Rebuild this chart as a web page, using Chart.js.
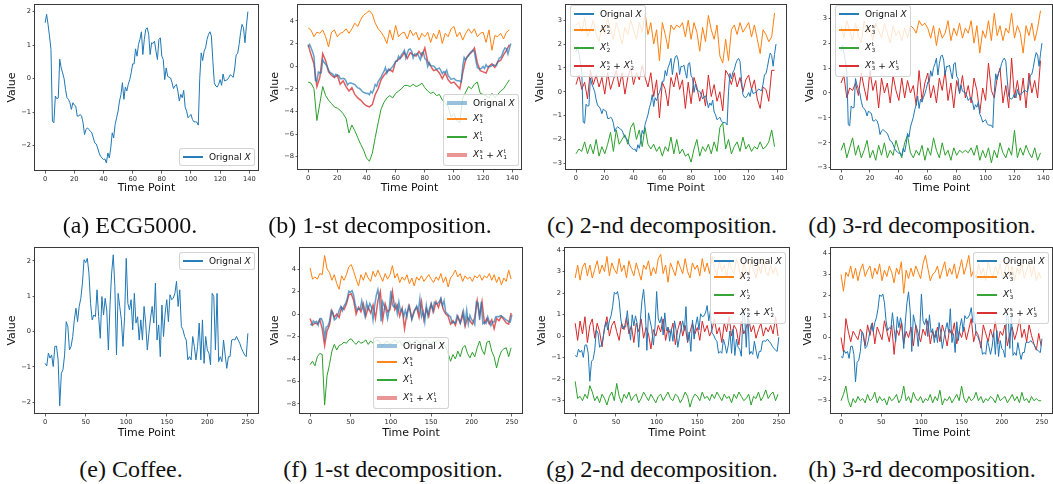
<!DOCTYPE html>
<html>
<head>
<meta charset="utf-8">
<script src="https://cdn.jsdelivr.net/npm/chart.js@4.4.1/dist/chart.umd.min.js"></script>
<style>
  html, body { margin: 0; padding: 0; background: #fff; }
  #fig { position: relative; width: 1053px; height: 484px; overflow: hidden; background: #fff; }
  .panel { position: absolute; }
  .panel canvas { display: block; }
  .cap { position: absolute; font-family: "Liberation Serif", "Times New Roman", serif; font-size: 24px;
         color: #111; white-space: nowrap; transform: translate(-50%, -50%); line-height: 1; }
  .lg { position: absolute; background: rgba(255,255,255,0.8); border: 1px solid rgba(204,204,204,0.85);
        border-radius: 3px; padding: 3px 3px; font-family: "DejaVu Sans", sans-serif; font-size: 9px;
        color: #111; line-height: 1; box-sizing: border-box; }
  .lg .row { display: flex; align-items: center; height: 10px; }
  .lg .row + .row { margin-top: 4px; }
  .lg .row.math { height: 14px; }
  .lg .hd { width: 20px; margin-right: 6px; flex: none; }
  .lg i { font-style: italic; }
  .lg .ss { display: inline-flex; flex-direction: column; font-size: 0.62em; line-height: 1.05; vertical-align: middle;
            margin-left: 0.5px; }
  .lg .ss span { display: block; }
  .lg .op { margin: 0 3px; }
</style>
</head>
<body>
<div id="fig"></div>
<script>
// ---------------- data ----------------
// ECG5000 sample, one value per time point (0..139)
const ecgX = [
  1.67, 1.92, 1.62, 1.27, 0.87, -1.27, -1.32, -0.52, -0.60, -0.58,
  0.58, 0.32, 0.17, 0.00, -0.33, -0.57, -0.62, -0.72, -0.92, -0.72,
  -0.79, -0.82, -1.12, -1.12, -1.07, -1.12, -1.32, -1.67, -1.52, -1.47,
  -1.52, -1.57, -1.62, -1.77, -1.92, -1.95, -2.07, -2.22, -2.32, -2.37,
  -2.42, -2.40, -2.52, -2.22, -2.37, -2.07, -1.62, -1.77, -1.37, -1.17,
  -0.97, -0.67, -0.47, -0.12, -0.62, -0.25, -0.37, -0.17, -0.03, 0.17,
  0.44, 0.44, 0.89, 0.67, 1.02, 1.17, 1.40, 0.72, 1.17, 1.47,
  1.52, 1.32, 0.72, 1.07, 1.05, 1.12, 0.82, 0.57, 1.17, 1.22,
  0.67, 0.57, -0.03, 0.32, 0.07, 0.04, 0.02, -0.12, -0.30, -0.22,
  -0.17, -0.37, -0.67, -0.47, -0.57, -0.35, -0.85, -0.97, -1.17, -1.12,
  -1.07, -1.22, -1.29, -1.29, -1.30, -1.39, 0.00, 0.77, 0.54, 0.82,
  0.92, 1.17, 1.32, 1.40, 1.27, 0.52, -0.12, -0.22, -0.25, -0.17,
  -0.03, -0.20, 0.14, -0.07, -0.05, -0.03, 0.04, 0.12, 0.07, 0.04,
  0.32, 0.72, 0.75, 1.02, 1.37, 1.62, 1.52, 1.07, 1.57, 2.00
];

// ECG5000 components, every 2nd time point (0, 2, ..., 138)
const ecgS1 = [
  3.38, 3.18, 2.6, 3.0, 2.9, 3.2, 2.6, 1.7, 3.0, 3.2,
  2.6, 2.9, 3.0, 3.3, 2.9, 3.3, 3.8, 3.5, 4.1, 4.5,
  4.7, 4.9, 4.6, 3.8, 3.3, 3.0, 2.6, 2.0, 3.2, 2.3,
  3.6, 2.6, 2.9, 3.0, 2.4, 3.2, 2.7, 3.0, 2.3, 2.9,
  2.6, 3.0, 2.1, 2.9, 2.4, 3.2, 2.0, 2.9, 2.6, 3.3,
  3.5, 2.6, 3.0, 2.3, 2.9, 3.3, 2.9, 3.3, 2.6, 2.9,
  3.0, 2.1, 3.2, 1.4, 2.7, 2.6, 2.9, 2.4, 3.0, 3.2
];
const ecgT1 = [
  -1.4, -1.5, -2.0, -4.8, -3.3, -1.8, -2.6, -3.0, -3.3, -3.6,
  -3.7, -3.9, -4.2, -4.6, -5.9, -5.2, -5.7, -6.3, -6.9, -7.4,
  -8.1, -8.4, -7.7, -6.3, -5.0, -3.8, -3.2, -2.8, -2.6, -2.8,
  -2.4, -2.2, -2.0, -1.7, -1.7, -1.8, -1.6, -1.8, -1.7, -1.5,
  -1.9, -2.2, -2.4, -2.3, -2.6, -2.5, -3.0, -3.2, -3.6, -4.5,
  -4.2, -4.8, -5.0, -2.8, -2.3, -1.8, -2.0, -1.6, -1.4, -2.4,
  -2.5, -2.6, -2.8, -2.4, -2.8, -2.5, -2.2, -2.0, -1.6, -1.2
];
const ecgSum1 = [
  1.9, 1.0, 0.2, -1.8, -1.0, 1.1, 0.5, -0.5, -0.8, -1.0,
  -0.8, -1.6, -1.3, -1.8, -2.2, -1.9, -2.5, -2.8, -3.0, -3.3,
  -3.5, -3.6, -3.4, -2.5, -2.0, -1.2, -0.8, -0.5, -0.3, -0.5,
  0.4, 0.6, 0.8, 1.2, 0.7, 1.2, 1.0, 0.9, 1.3, 0.9,
  1.6, 0.4, 0.0, -0.4, -0.3, -0.6, -1.1, -0.6, -1.2, -1.5,
  -1.4, -1.7, -2.0, -0.6, 0.6, 1.0, 1.2, 1.6, 0.3, -0.4,
  -0.5, -0.6, 0.0, 0.2, -0.1, 0.4, 0.5, 1.0, 1.4, 1.9
];
const ecgS2 = [
  2.8, 2.9, 2.5, 3.1, 2.3, 2.6, 3.0, 2.4, 2.1, 2.8,
  2.4, 3.1, 2.6, 2.2, 2.9, 2.5, 2.0, 2.7, 2.4, 3.0,
  2.6, 2.2, 2.9, 2.5, 3.3, 2.4, 2.9, 2.0, 2.6, 1.3,
  2.9, 2.4, 1.8, 2.8, 2.6, 2.8, 2.7, 2.9, 2.3, 3.0,
  2.2, 2.9, 2.5, 1.7, 2.7, 2.1, 3.2, 2.6, 2.2, 2.8,
  1.5, 1.2, 2.2, 1.3, 2.6, 2.8, 2.4, 2.9, 2.5, 2.7,
  2.9, 2.3, 2.8, 2.2, 1.6, 2.6, 2.4, 2.1, 2.3, 3.3
];
const ecgT2 = [
  -2.6, -2.4, -2.5, -2.1, -2.6, -2.2, -2.6, -2.0, -2.7, -2.3,
  -2.6, -2.2, -1.7, -2.5, -1.6, -2.2, -2.0, -1.8, -2.2, -1.5,
  -1.3, -2.0, -1.6, -2.3, -1.5, -2.2, -2.4, -2.2, -2.5, -2.3,
  -2.7, -2.3, -2.5, -1.9, -2.6, -2.0, -2.6, -2.4, -2.7, -2.6,
  -2.95, -2.4, -2.0, -2.7, -2.3, -2.5, -2.2, -2.6, -2.1, -2.5,
  -1.5, -1.3, -2.4, -2.0, -2.6, -2.3, -2.1, -2.5, -1.9, -2.4,
  -2.2, -2.5, -2.3, -2.4, -2.1, -2.4, -2.3, -2.1, -1.6, -2.3
];
const ecgSum2 = [
  0.3, 0.7, 0.1, 0.4, -0.3, 0.9, 0.3, 0.7, 0.2, 0.6,
  -0.1, 0.8, 0.1, 0.5, 0.9, 0.2, 0.8, -0.1, 0.6, 1.0,
  0.3, 0.8, 0.5, 1.1, 0.6, 0.2, 0.8, -0.2, 0.5, -1.1,
  0.4, 0.1, -0.6, 0.6, 0.2, 0.8, 0.1, 0.5, -0.7, 0.4,
  -0.5, 0.6, 0.2, -0.4, 0.1, -0.6, 0.7, -0.2, 0.3, -0.4,
  0.0, -0.8, 0.9, 0.7, 0.3, 0.8, 0.2, 0.6, 0.0, 0.5,
  0.7, 0.1, 0.5, -0.3, -0.7, 0.2, 0.1, -0.4, 0.9, 0.9
];
const ecgS3 = [
  2.7, 2.2, 2.9, 2.5, 2.1, 2.8, 2.3, 2.0, 2.9, 2.4,
  2.6, 2.1, 2.8, 2.5, 2.2, 2.8, 2.4, 2.0, 2.7, 2.3,
  2.5, 2.1, 2.6, 2.2, 2.7, 2.6, 2.4, 2.9, 2.7, 2.8,
  2.6, 2.2, 2.7, 1.9, 2.6, 2.2, 2.4, 2.9, 2.1, 2.6,
  2.3, 2.8, 2.2, 2.6, 2.4, 2.9, 2.0, 2.7, 1.6, 2.5,
  2.2, 2.9, 2.1, 3.2, 2.3, 2.7, 2.1, 2.6, 2.4, 3.2,
  2.2, 2.7, 2.4, 1.6, 2.7, 2.3, 2.8, 2.1, 2.6, 3.3
];
const ecgT3 = [
  -2.3, -2.0, -2.6, -2.2, -1.8, -2.5, -2.1, -2.6, -2.3, -1.9,
  -2.6, -2.3, -2.7, -2.1, -2.5, -2.0, -2.6, -2.3, -2.5, -1.9,
  -2.3, -2.6, -2.0, -1.7, -2.4, -2.6, -2.3, -2.5, -2.1, -2.7,
  -2.2, -2.5, -1.8, -2.3, -2.6, -2.0, -2.5, -2.3, -2.7, -2.2,
  -2.5, -2.3, -2.4, -2.3, -2.4, -2.2, -2.5, -2.1, -2.7, -2.3,
  -2.6, -2.2, -2.8, -2.3, -2.6, -2.0, -2.4, -2.6, -2.2, -2.5,
  -1.5, -2.6, -2.2, -2.5, -2.1, -2.4, -2.6, -2.2, -2.7, -2.4
];
const ecgSum3 = [
  0.4, 0.7, -0.2, 0.2, 0.1, 0.4, -0.1, 0.8, 0.2, -0.3,
  0.9, 0.1, 0.5, -0.6, 0.6, 0.0, 0.4, -0.4, 0.7, 0.1,
  -0.3, 0.6, -0.2, 0.5, 0.0, 0.3, -0.5, 0.9, -0.3, 0.4,
  0.8, -0.2, 0.3, -0.4, 0.6, 0.1, 0.9, -0.3, 0.4, -0.6,
  0.5, 0.0, 0.7, -0.2, 0.3, -0.4, 0.6, 0.1, -0.8, 0.2,
  -0.3, 1.2, 0.1, -0.2, 0.6, 1.0, -0.4, 0.3, -0.6, 1.4,
  -0.2, 0.5, -0.3, 0.6, -0.6, 0.8, 0.0, 0.5, -0.2, 1.3
];

// Coffee sample, every 2nd time point (0, 2, ..., 250)
const coffeeX = [
  -0.90, -0.97, -0.61, -0.75, -0.66, -0.99, -0.42, -0.41, -0.80, -2.10,
  -1.18, -1.08, -0.66, 0.28, 0.14, -0.52, -0.42, -0.14, 0.33, 0.66,
  0.28, 0.71, 0.94, 1.37, 2.03, 1.95, 2.07, 1.65, 0.80, 0.33,
  0.47, 0.42, 1.18, 0.42, -0.19, 0.99, 0.47, 0.94, 0.61, -0.52,
  0.75, 1.65, 2.17, 1.27, -0.66, 1.08, 0.71, 0.33, -0.42, 0.42,
  2.07, 0.80, 0.61, 0.90, 0.05, 1.08, 0.24, 0.42, -0.24, 0.33,
  -0.24, 0.71, 0.24, -0.52, -0.05, 0.38, 0.71, 0.24, 1.37, -0.24,
  0.19, -0.71, 0.75, -0.14, 0.52, 0.90, 0.28, 1.04, 0.90, 0.94,
  1.08, 1.42, 0.71, 1.18, 0.14, 0.05, -0.14, -0.24, -0.80, -0.71,
  -0.80, -0.14, -0.42, -0.80, -0.42, 0.24, -0.80, 0.33, -0.90, -0.14,
  -0.52, -0.61, -0.94, 1.08, 0.99, -0.52, 1.08, -0.85, -0.71, -0.85,
  -0.24, -0.66, -1.04, -0.71, -0.71, -0.24, -0.22, -0.24, -0.14, -0.24,
  -0.33, -0.47, -0.57, -0.66, -0.71, -0.05
];

// Coffee components, every 3rd time point (0, 3, ..., 249)
const coffeeS1 = [
  4.1, 3.1, 3.3, 3.1, 3.6, 3.5, 5.2, 4.0, 3.7, 3.0,
  3.5, 2.7, 2.2, 3.4, 3.0, 3.5, 4.2, 4.4, 3.8, 3.1,
  2.5, 3.5, 3.0, 3.7, 3.2, 2.9, 3.8, 3.3, 3.9, 3.4,
  2.9, 3.6, 3.1, 3.5, 4.3, 3.2, 3.6, 2.8, 3.3, 3.0,
  3.5, 2.7, 3.2, 2.5, 3.3, 3.0, 3.4, 2.9, 3.2, 3.5,
  3.1, 2.8, 3.3, 3.0, 3.6, 2.8, 3.3, 2.4, 3.2, 3.5,
  3.9, 3.3, 3.6, 2.9, 3.4, 3.1, 3.3, 2.9, 3.4, 3.2,
  3.5, 3.0, 3.4, 3.2, 3.6, 3.0, 3.5, 2.8, 3.3, 2.6,
  3.2, 2.9, 3.9, 3.1
];
const coffeeT1 = [
  -4.5, -4.2, -4.6, -3.8, -3.5, -3.6, -8.1, -5.5, -4.5, -3.3,
  -2.7, -3.2, -2.8, -2.7, -2.5, -2.6, -2.3, -2.2, -2.5, -2.7,
  -2.4, -2.6, -2.5, -2.3, -2.7, -2.4, -2.6, -2.4, -2.3, -2.6,
  -2.8, -2.5, -2.4, -2.7, -2.5, -2.3, -2.6, -2.4, -2.8, -2.5,
  -2.6, -2.4, -2.7, -2.5, -2.3, -2.5, -2.6, -2.4, -2.3, -2.5,
  -2.7, -2.4, -2.5, -2.3, -2.6, -2.7, -2.9, -3.5, -4.2, -3.6,
  -4.0, -3.3, -3.8, -3.0, -2.8, -3.5, -3.9, -3.4, -3.8, -3.0,
  -2.4, -3.2, -3.6, -2.5, -2.4, -3.3, -3.8, -4.8, -3.9, -3.3,
  -3.1, -3.0, -3.8, -3.0
];
const coffeeSum1 = [
  -0.4, -1.0, -0.8, -0.9, -0.5, -1.3, -2.8, -1.5, -1.0, 0.3,
  -0.3, 0.0, -0.3, 0.6, 0.4, 0.9, 1.7, 1.8, 1.2, 0.0,
  0.6, 0.2, 0.9, -0.2, 0.6, 0.1, 0.8, -0.4, 1.2, 2.0,
  -0.5, 0.9, 0.2, 0.4, 2.0, 0.4, 0.8, -0.2, 0.5, -1.3,
  0.1, 0.7, -0.4, 0.3, 0.6, -0.3, 1.1, -0.5, 0.5, -0.2,
  0.9, 0.2, 1.1, 0.6, 1.3, 0.4, 0.0, -0.2, -0.9, -0.6,
  -1.0, -0.2, -0.8, 0.1, -1.1, -0.3, -0.6, -0.9, -0.3, 1.2,
  -0.2, 1.1, -0.8, -0.4, -0.9, -0.5, -1.3, -0.4, -0.6, -0.2,
  -0.5, -0.8, -0.9, 0.1
];
const coffeeS2 = [
  2.7, 3.3, 2.6, 3.2, 3.4, 2.8, 3.3, 2.7, 3.1, 3.5,
  2.9, 3.3, 3.0, 3.7, 2.8, 3.4, 3.1, 2.9, 3.6, 3.0,
  3.3, 2.7, 3.5, 3.1, 2.8, 3.4, 3.0, 2.6, 3.3, 3.1,
  3.5, 2.8, 3.2, 2.9, 3.6, 3.8, 2.9, 3.3, 2.5, 3.4,
  3.1, 2.8, 3.5, 3.2, 2.9, 3.6, 3.0, 2.7, 3.4, 3.1,
  3.3, 2.8, 3.6, 3.0, 3.4, 2.9, 3.7, 3.2, 2.8, 3.5,
  3.0, 3.3, 2.7, 3.5, 3.1, 2.9, 3.6, 3.2, 2.6, 3.4,
  3.0, 2.8, 3.5, 3.1, 2.7, 3.3, 2.9, 3.6, 3.0, 2.8,
  3.3, 2.9, 3.2, 2.8
];
const coffeeT2 = [
  -2.1, -2.9, -2.8, -3.0, -2.7, -2.9, -2.3, -2.6, -3.0, -2.8,
  -3.1, -2.7, -2.9, -3.2, -2.8, -2.6, -3.0, -2.2, -2.8, -3.1,
  -2.7, -2.9, -2.6, -3.0, -2.8, -2.7, -3.1, -2.9, -2.6, -2.8,
  -3.0, -2.7, -2.9, -3.1, -2.8, -2.7, -3.0, -2.8, -2.6, -2.9,
  -3.0, -2.7, -2.8, -3.1, -2.9, -2.6, -2.8, -3.3, -2.9, -2.7,
  -2.8, -3.0, -2.6, -2.9, -2.8, -3.0, -2.7, -2.9, -2.6, -2.8,
  -3.0, -2.7, -2.9, -2.8, -3.1, -2.7, -2.9, -2.6, -2.8, -3.0,
  -2.9, -2.7, -3.2, -2.8, -2.9, -2.6, -3.0, -2.8, -2.5, -2.9,
  -2.7, -2.6, -3.0, -2.7
];
const coffeeSum2 = [
  0.6, -0.2, 0.7, 0.1, 0.9, -0.3, 0.5, 0.8, -0.1, 0.6,
  0.2, -0.5, 0.4, 0.9, 0.0, 0.5, 0.7, 0.2, -0.2, 0.6,
  0.3, 0.9, 0.1, 0.5, -0.3, 0.6, 0.2, 0.8, -0.1, 0.4,
  0.1, -0.6, 0.3, 0.0, 0.5, 0.2, 0.8, -0.2, 0.4, 0.1,
  0.6, -0.4, 0.3, 0.7, 0.0, 0.5, -0.3, 0.2, 0.6, 0.1,
  0.4, -0.2, 0.7, 0.2, 0.5, 0.0, 0.3, 0.8, 0.1, 0.4,
  -0.3, 0.6, 0.2, 0.9, 0.0, 0.5, 0.3, -0.4, 0.7, 0.1,
  0.4, 0.8, 0.2, 0.5, -0.1, 0.3, 0.6, 0.0, 0.4, 0.2,
  0.5, 0.1, 0.9, 0.0
];
const coffeeS3 = [
  3.0, 2.2, 3.1, 2.9, 3.4, 2.8, 3.3, 2.7, 3.2, 3.5,
  2.9, 3.2, 3.4, 2.8, 3.3, 3.0, 3.5, 2.7, 3.2, 2.9,
  3.4, 3.1, 2.6, 3.3, 3.0, 3.6, 2.1, 3.2, 2.8, 3.3,
  2.9, 3.4, 3.1, 2.8, 3.5, 3.9, 3.3, 2.7, 3.0, 3.1,
  3.4, 2.8, 3.2, 3.6, 2.9, 3.3, 3.0, 3.5, 2.8, 3.2,
  3.7, 3.0, 3.4, 3.9, 2.9, 3.2, 2.8, 3.5, 3.0, 3.3,
  2.7, 3.6, 3.1, 2.9, 3.4, 3.0, 3.5, 2.8, 3.2, 3.6,
  2.9, 3.4, 2.7, 3.3, 3.0, 3.5, 2.8, 3.2, 3.6, 2.9,
  3.4, 2.7, 3.1, 2.8
];
const coffeeT3 = [
  -3.0, -2.7, -2.3, -3.0, -3.3, -2.9, -3.1, -2.8, -3.0, -2.9,
  -3.1, -2.7, -3.0, -2.9, -2.6, -3.1, -2.8, -3.0, -2.9, -3.2,
  -2.8, -3.0, -2.9, -2.7, -3.1, -2.9, -2.3, -3.0, -2.8, -3.1,
  -2.6, -2.9, -3.0, -2.8, -3.1, -2.9, -3.0, -2.7, -3.1, -2.8,
  -3.0, -2.5, -3.2, -2.9, -3.0, -2.8, -3.1, -2.9, -2.7, -3.0,
  -2.3, -2.9, -3.1, -2.8, -3.0, -2.9, -2.6, -3.0, -2.8, -3.1,
  -2.9, -3.0, -2.8, -2.9, -3.1, -2.7, -3.0, -2.9, -2.8, -3.1,
  -2.9, -2.7, -3.0, -2.8, -3.1, -2.6, -3.0, -2.9, -3.1, -2.8,
  -3.0, -2.9, -3.0, -3.0
];
const coffeeSum3 = [
  0.0, -0.7, 0.9, 0.3, -0.2, 0.3, 0.1, -0.1, 0.4, 0.2,
  -0.4, 0.6, 0.1, 0.7, -0.3, 0.5, 0.2, -0.1, 0.8, 0.3,
  -0.2, 0.6, -0.8, 0.4, 0.1, 0.7, -0.3, 0.3, 0.0, 0.5,
  -0.4, 0.6, 0.2, -0.2, 0.4, 0.1, 0.8, -0.3, 0.3, 0.0,
  0.5, -0.2, 0.6, 0.2, -0.4, 0.4, 0.1, 0.7, -0.3, 0.3,
  0.0, 0.5, -0.1, 0.4, 0.9, -0.2, 0.3, 0.1, -0.5, 0.6,
  0.2, -0.2, 0.4, 0.0, 0.8, -0.3, 0.3, 0.1, 0.6, -0.4,
  0.2, 0.5, -0.1, 0.3, 0.9, 0.0, 0.4, -0.2, 0.6, 0.1,
  -0.3, -0.6, 0.2, -0.4
];

// sampling step (time points between stored values)
const STEP = { ecgX: 1, ecgSub: 2, coffeeX: 2, coffeeSub: 3 };

// tick labels
const ecgXTicks = [0, 20, 40, 60, 80, 100, 120, 140];
const coffeeXTicks = [0, 50, 100, 150, 200, 250];
const yTicksA = [-2, -1, 0, 1, 2];
const yTicksB = [-8, -6, -4, -2, 0, 2, 4];
const yTicksC = [-3, -2, -1, 0, 1, 2, 3];
const yTicksE = [-2, -1, 0, 1, 2];
const yTicksG = [-3, -2, -1, 0, 1, 2, 3, 4];

// legend labels and captions
const labelX = 'Orignal $X$';
const labelS = k => `$X_${k}^s$`;
const labelT = k => `$X_${k}^t$`;
const labelSum = k => `$X_${k}^s + X_${k}^t$`;
const captions = [
  '(a) ECG5000.', '(b) 1-st decomposition.', '(c) 2-nd decomposition.', '(d) 3-rd decomposition.',
  '(e) Coffee.', '(f) 1-st decomposition.', '(g) 2-nd decomposition.', '(h) 3-rd decomposition.'
];

// ---------------- styling helpers ----------------
const COL = { blue: '31,119,180', orange: '255,127,14', green: '44,160,44', red: '214,39,40' };

function line(label, values, step, col, width = 1, alpha = 1) {
  return {
    label,
    data: values.map((v, i) => ({ x: i * step, y: v })),
    borderColor: `rgba(${col},${alpha})`,
    backgroundColor: `rgba(${col},${alpha})`,
    borderWidth: width,
    pointRadius: 0,
    tension: 0,
    fill: false
  };
}

function decompositionSets(x, xStep, s, t, sum, subStep, k, emphasize) {
  const w = emphasize ? 1.5 : 1;
  return [
    line(labelX, x, xStep, COL.blue, w, emphasize ? 0.7 : 1),
    line(labelS(k), s, subStep, COL.orange),
    line(labelT(k), t, subStep, COL.green),
    line(labelSum(k), sum, subStep, COL.red, w, emphasize ? 0.75 : 1)
  ];
}

// panel layout: canvas rect [left, top, width, height], plot box [left, top, right, bottom]
const panels = [
  { cv: [0, 0, 262, 200], box: [35, 4, 258, 171], xr: [-6.95, 145.95], xt: ecgXTicks, yr: [-2.76, 2.23], yt: yTicksA,
    legend: { loc: 'lower right', dx: 3, dy: 5 },
    sets: [line(labelX, ecgX, STEP.ecgX, COL.blue)] },
  { cv: [263, 0, 264, 200], box: [298, 4, 521, 170], xr: [-6.95, 145.95], xt: ecgXTicks, yr: [-9.17, 5.49], yt: yTicksB,
    legend: { loc: 'lower right', dx: 2.5, dy: 4.5 },
    sets: decompositionSets(ecgX, STEP.ecgX, ecgS1, ecgT1, ecgSum1, STEP.ecgSub, 1, true) },
  { cv: [528, 0, 264, 200], box: [566, 4, 786, 170], xr: [-6.95, 145.95], xt: ecgXTicks, yr: [-3.28, 3.68], yt: yTicksC,
    legend: { loc: 'upper left', dx: 4, dy: 1 },
    sets: decompositionSets(ecgX, STEP.ecgX, ecgS2, ecgT2, ecgSum2, STEP.ecgSub, 2, false) },
  { cv: [798, 0, 255, 200], box: [831, 4, 1052, 170], xr: [-6.95, 145.95], xt: ecgXTicks, yr: [-3.09, 3.57], yt: yTicksC,
    legend: { loc: 'upper left', dx: 4, dy: 1 },
    sets: decompositionSets(ecgX, STEP.ecgX, ecgS3, ecgT3, ecgSum3, STEP.ecgSub, 3, false) },
  { cv: [0, 244, 262, 200], box: [35, 247, 258, 414], xr: [-12.5, 262.5], xt: coffeeXTicks, yr: [-2.33, 2.39], yt: yTicksE,
    legend: { loc: 'upper right', dx: 3, dy: 5 },
    sets: [line(labelX, coffeeX, STEP.coffeeX, COL.blue)] },
  { cv: [263, 244, 264, 200], box: [300, 247, 522, 414], xr: [-12.5, 262.5], xt: coffeeXTicks, yr: [-8.89, 5.96], yt: yTicksB,
    legend: { loc: 'lower center', dx: 0, dy: 5.5 },
    sets: decompositionSets(coffeeX, STEP.coffeeX, coffeeS1, coffeeT1, coffeeSum1, STEP.coffeeSub, 1, true) },
  { cv: [530, 244, 262, 200], box: [565, 247, 789, 414], xr: [-12.5, 262.5], xt: coffeeXTicks, yr: [-3.62, 4.14], yt: yTicksG,
    legend: { loc: 'upper right', dx: 3.5, dy: 5 },
    sets: decompositionSets(coffeeX, STEP.coffeeX, coffeeS2, coffeeT2, coffeeSum2, STEP.coffeeSub, 2, false) },
  { cv: [796, 244, 257, 200], box: [831, 247, 1052, 414], xr: [-12.5, 262.5], xt: coffeeXTicks, yr: [-3.63, 4.30], yt: yTicksG,
    legend: { loc: 'upper right', dx: 3, dy: 4.5 },
    sets: decompositionSets(coffeeX, STEP.coffeeX, coffeeS3, coffeeT3, coffeeSum3, STEP.coffeeSub, 3, false) }
];
const captionPos = [[130, 225], [380, 225], [662, 225], [922, 225], [131, 469], [393, 469], [662, 469], [922, 469]];
const xTitleY = [188, 432.7];   // centre line of "Time Point" per row
const yTitleX = 12;             // centre of "Value" from the canvas' left edge

// ---------------- plugins ----------------
// full box around the plotting area (all four spines)
const frame = {
  id: 'frame',
  afterDatasetsDraw(chart) {
    const { ctx, chartArea: a } = chart;
    ctx.save();
    ctx.strokeStyle = '#3a3a3a';
    ctx.lineWidth = 1;
    ctx.strokeRect(Math.round(a.left) - 0.5, Math.round(a.top) + 0.5,
                   Math.round(a.right - a.left) + 1, Math.round(a.bottom - a.top) - 1);
    ctx.restore();
  }
};

// mathtext-like label markup: $X_1^s$ -> italic X with stacked super/subscript
function labelHtml(text) {
  return text.split('$').map((part, i) => {
    if (i % 2 === 0) return part.replace(/&/g, '&amp;').replace(/</g, '&lt;');
    return part
      .replace(/([A-Za-z])_(\w)\^(\w)/g, '<i>$1</i><span class="ss"><span>$3</span><span>$2</span></span>')
      .replace(/\s*\+\s*/g, '<span class="op">+</span>')
      .replace(/^([A-Za-z])$/, '<i>$1</i>');
  }).join('');
}

// legend drawn as HTML from the chart's datasets, anchored to the plot area
const htmlLegend = {
  id: 'htmlLegend',
  afterUpdate(chart, args, opts) {
    const host = chart.canvas.parentNode;
    let box = host.querySelector('.lg');
    if (!box) { box = document.createElement('div'); box.className = 'lg'; host.appendChild(box); }
    box.innerHTML = '';
    chart.data.datasets.forEach(ds => {
      const row = document.createElement('div');
      row.className = 'row' + (ds.label.includes('_') ? ' math' : '');
      const hd = document.createElement('span');
      hd.className = 'hd';
      const thick = ds.borderWidth > 1.2;
      hd.style.height = (thick ? 4 : 2) + 'px';
      hd.style.background = ds.borderColor;
      hd.style.opacity = thick ? '0.65' : '0.95';
      const tx = document.createElement('span');
      tx.innerHTML = labelHtml(ds.label);
      row.appendChild(hd); row.appendChild(tx);
      box.appendChild(row);
    });
    const a = chart.chartArea, w = box.offsetWidth, h = box.offsetHeight;
    const [v, hz] = opts.loc.split(' ');
    const left = hz === 'left' ? a.left + opts.dx : hz === 'right' ? a.right - opts.dx - w : (a.left + a.right - w) / 2;
    const top = v === 'upper' ? a.top + opts.dy : a.bottom - opts.dy - h;
    box.style.left = Math.round(left) + 'px';
    box.style.top = Math.round(top) + 'px';
  }
};

// ---------------- build ----------------
const fig = document.getElementById('fig');
const tickFont = { family: 'DejaVu Sans', size: 6.7 };
const titleFont = { family: 'DejaVu Sans', size: 11, lineHeight: 1.2 };
const fmt = v => (v < 0 ? '\u2212' + Math.abs(v) : String(v));

panels.forEach((p, idx) => {
  const [cl, ct, cw, ch] = p.cv;
  const [bl, bt, br, bb] = p.box;
  const div = document.createElement('div');
  div.className = 'panel';
  Object.assign(div.style, { left: cl + 'px', top: ct + 'px', width: cw + 'px', height: ch + 'px' });
  const cv = document.createElement('canvas');
  cv.width = cw; cv.height = ch;
  cv.style.width = cw + 'px'; cv.style.height = ch + 'px';
  div.appendChild(cv);
  fig.appendChild(div);

  const yWidth = bl - cl, xHeight = ct + ch - bb;
  const half = titleFont.size * titleFont.lineHeight / 2;
  const xTitlePad = ct + ch - xTitleY[idx < 4 ? 0 : 1] - half;
  new Chart(cv, {
    type: 'line',
    data: { datasets: p.sets },
    options: {
      responsive: false,
      animation: false,
      devicePixelRatio: 1,
      layout: { padding: { left: 0, top: bt - ct, right: cl + cw - br, bottom: 0 } },
      plugins: {
        legend: { display: false },
        tooltip: { enabled: false },
        htmlLegend: p.legend
      },
      scales: {
        x: {
          type: 'linear', min: p.xr[0], max: p.xr[1],
          afterBuildTicks: s => { s.ticks = p.xt.map(v => ({ value: v })); },
          afterFit: s => { s.height = xHeight; s.paddingLeft = 0; s.paddingRight = 0; },
          ticks: { font: tickFont, color: '#262626', padding: 1.5, maxRotation: 0, autoSkip: false, callback: fmt },
          grid: { drawOnChartArea: false, drawTicks: true, tickLength: 2.5, color: '#3a3a3a', lineWidth: 0.8 },
          border: { display: false },
          title: { display: true, text: 'Time Point', font: titleFont, color: '#111',
                   padding: { top: 0, bottom: xTitlePad } }
        },
        y: {
          type: 'linear', min: p.yr[0], max: p.yr[1],
          afterBuildTicks: s => { s.ticks = p.yt.map(v => ({ value: v })); },
          afterFit: s => { s.width = yWidth; s.paddingTop = 0; s.paddingBottom = 0; },
          ticks: { font: tickFont, color: '#262626', padding: 1.5, autoSkip: false, callback: fmt },
          grid: { drawOnChartArea: false, drawTicks: true, tickLength: 2.5, color: '#3a3a3a', lineWidth: 0.8 },
          border: { display: false },
          title: { display: true, text: 'Value', font: titleFont, color: '#111',
                   padding: { top: yTitleX - half, bottom: 0 } }
        }
      }
    },
    plugins: [frame, htmlLegend]
  });
});

captions.forEach((c, i) => {
  const d = document.createElement('div');
  d.className = 'cap';
  d.textContent = c;
  d.style.left = captionPos[i][0] + 'px';
  d.style.top = captionPos[i][1] + 'px';
  fig.appendChild(d);
});
</script>
</body>
</html>
